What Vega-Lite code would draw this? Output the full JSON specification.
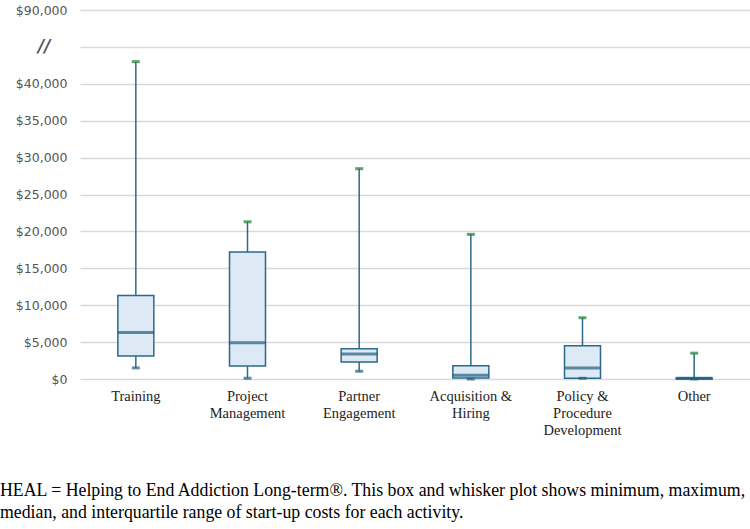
{
  "$schema": "https://vega.github.io/schema/vega-lite/v6.json",
  "autosize": "none",
  "width": 670,
  "height": 369,
  "padding": {"left": 80, "top": 10, "right": 0, "bottom": 150},
  "background": "white",
  "config": {"view": {"stroke": null}},
  "title": {
    "text": ["HEAL = Helping to End Addiction Long-term®. This box and whisker plot shows minimum, maximum,", "median, and interquartile range of start-up costs for each activity."],
    "orient": "bottom",
    "anchor": "start",
    "frame": "group",
    "dx": -80,
    "offset": 45,
    "font": "Liberation Serif",
    "fontSize": 17.8,
    "fontWeight": "normal",
    "lineHeight": 22,
    "color": "#000000"
  },
  "data": {
    "values": [
      {"activity": "Training", "min": 1500, "q1": 3100, "median": 6300, "q3": 11300, "max": 43000},
      {"activity": "Project Management", "min": 100, "q1": 1750, "median": 4900, "q3": 17200, "max": 21300},
      {"activity": "Partner Engagement", "min": 1050, "q1": 2300, "median": 3400, "q3": 4100, "max": 28500},
      {"activity": "Acquisition & Hiring", "min": 0, "q1": 150, "median": 500, "q3": 1800, "max": 19600},
      {"activity": "Policy & Procedure Development", "min": 100, "q1": 100, "median": 1500, "q3": 4500, "max": 8300},
      {"activity": "Other", "min": 0, "q1": 0, "median": 100, "q3": 150, "max": 3500}
    ]
  },
  "encoding": {
    "x": {
      "field": "activity",
      "type": "nominal",
      "sort": null,
      "scale": {"paddingInner": 0, "paddingOuter": 0},
      "axis": {
        "title": null,
        "domain": false,
        "ticks": false,
        "labelAngle": 0,
        "labelFont": "Liberation Serif",
        "labelFontSize": 14.5,
        "labelColor": "#222222",
        "labelPadding": 10,
        "labelLineHeight": 17,
        "labelExpr": "datum.value == 'Project Management' ? ['Project', 'Management'] : datum.value == 'Partner Engagement' ? ['Partner', 'Engagement'] : datum.value == 'Acquisition & Hiring' ? ['Acquisition &', 'Hiring'] : datum.value == 'Policy & Procedure Development' ? ['Policy &', 'Procedure', 'Development'] : datum.value"
      }
    }
  },
  "layer": [
    {
      "mark": {"type": "rule", "color": "#2b6a8b", "strokeWidth": 1.5},
      "encoding": {
        "y": {
          "field": "min",
          "type": "quantitative",
          "scale": {"domain": [0, 45000, 90000], "range": [369, 36.9, 0], "nice": false, "zero": false},
          "axis": {
            "title": null,
            "domain": false,
            "ticks": false,
            "tickCount": 30,
            "values": [0, 5000, 10000, 15000, 20000, 25000, 30000, 35000, 40000, 45000, 90000],
            "labelExpr": "datum.value == 45000 ? '//' : '$' + format(datum.value, ',')",
            "labelOverlap": false,
            "labelFont": "DejaVu Sans",
            "labelColor": "#555555",
            "labelPadding": {"condition": {"test": "datum.value == 45000", "value": 30}, "value": 13},
            "labelFontSize": {"condition": {"test": "datum.value == 45000", "value": 17}, "value": 12.5},
            "labelFontStyle": {"condition": {"test": "datum.value == 45000", "value": "italic"}, "value": "normal"},
            "labelFontWeight": {"condition": {"test": "datum.value == 45000", "value": "bold"}, "value": "normal"},
            "grid": true,
            "gridColor": "#d9d9d9",
            "gridWidth": 1.5
          }
        },
        "y2": {"field": "max"}
      }
    },
    {
      "mark": {"type": "bar", "size": 36, "fill": "#dde9f5", "stroke": "#2b6a8b", "strokeWidth": 1.5},
      "encoding": {
        "y": {"field": "q1", "type": "quantitative"},
        "y2": {"field": "q3"}
      }
    },
    {
      "mark": {"type": "tick", "size": 36, "thickness": 3, "color": "#1f5d7e", "orient": "horizontal"},
      "encoding": {
        "y": {"field": "median", "type": "quantitative"}
      }
    },
    {
      "mark": {"type": "tick", "size": 8, "thickness": 3, "color": "#23607f", "orient": "horizontal"},
      "encoding": {
        "y": {"field": "min", "type": "quantitative"}
      }
    },
    {
      "mark": {"type": "tick", "size": 8, "thickness": 3, "color": "#1e7b34", "orient": "horizontal"},
      "encoding": {
        "y": {"field": "max", "type": "quantitative"}
      }
    }
  ]
}
